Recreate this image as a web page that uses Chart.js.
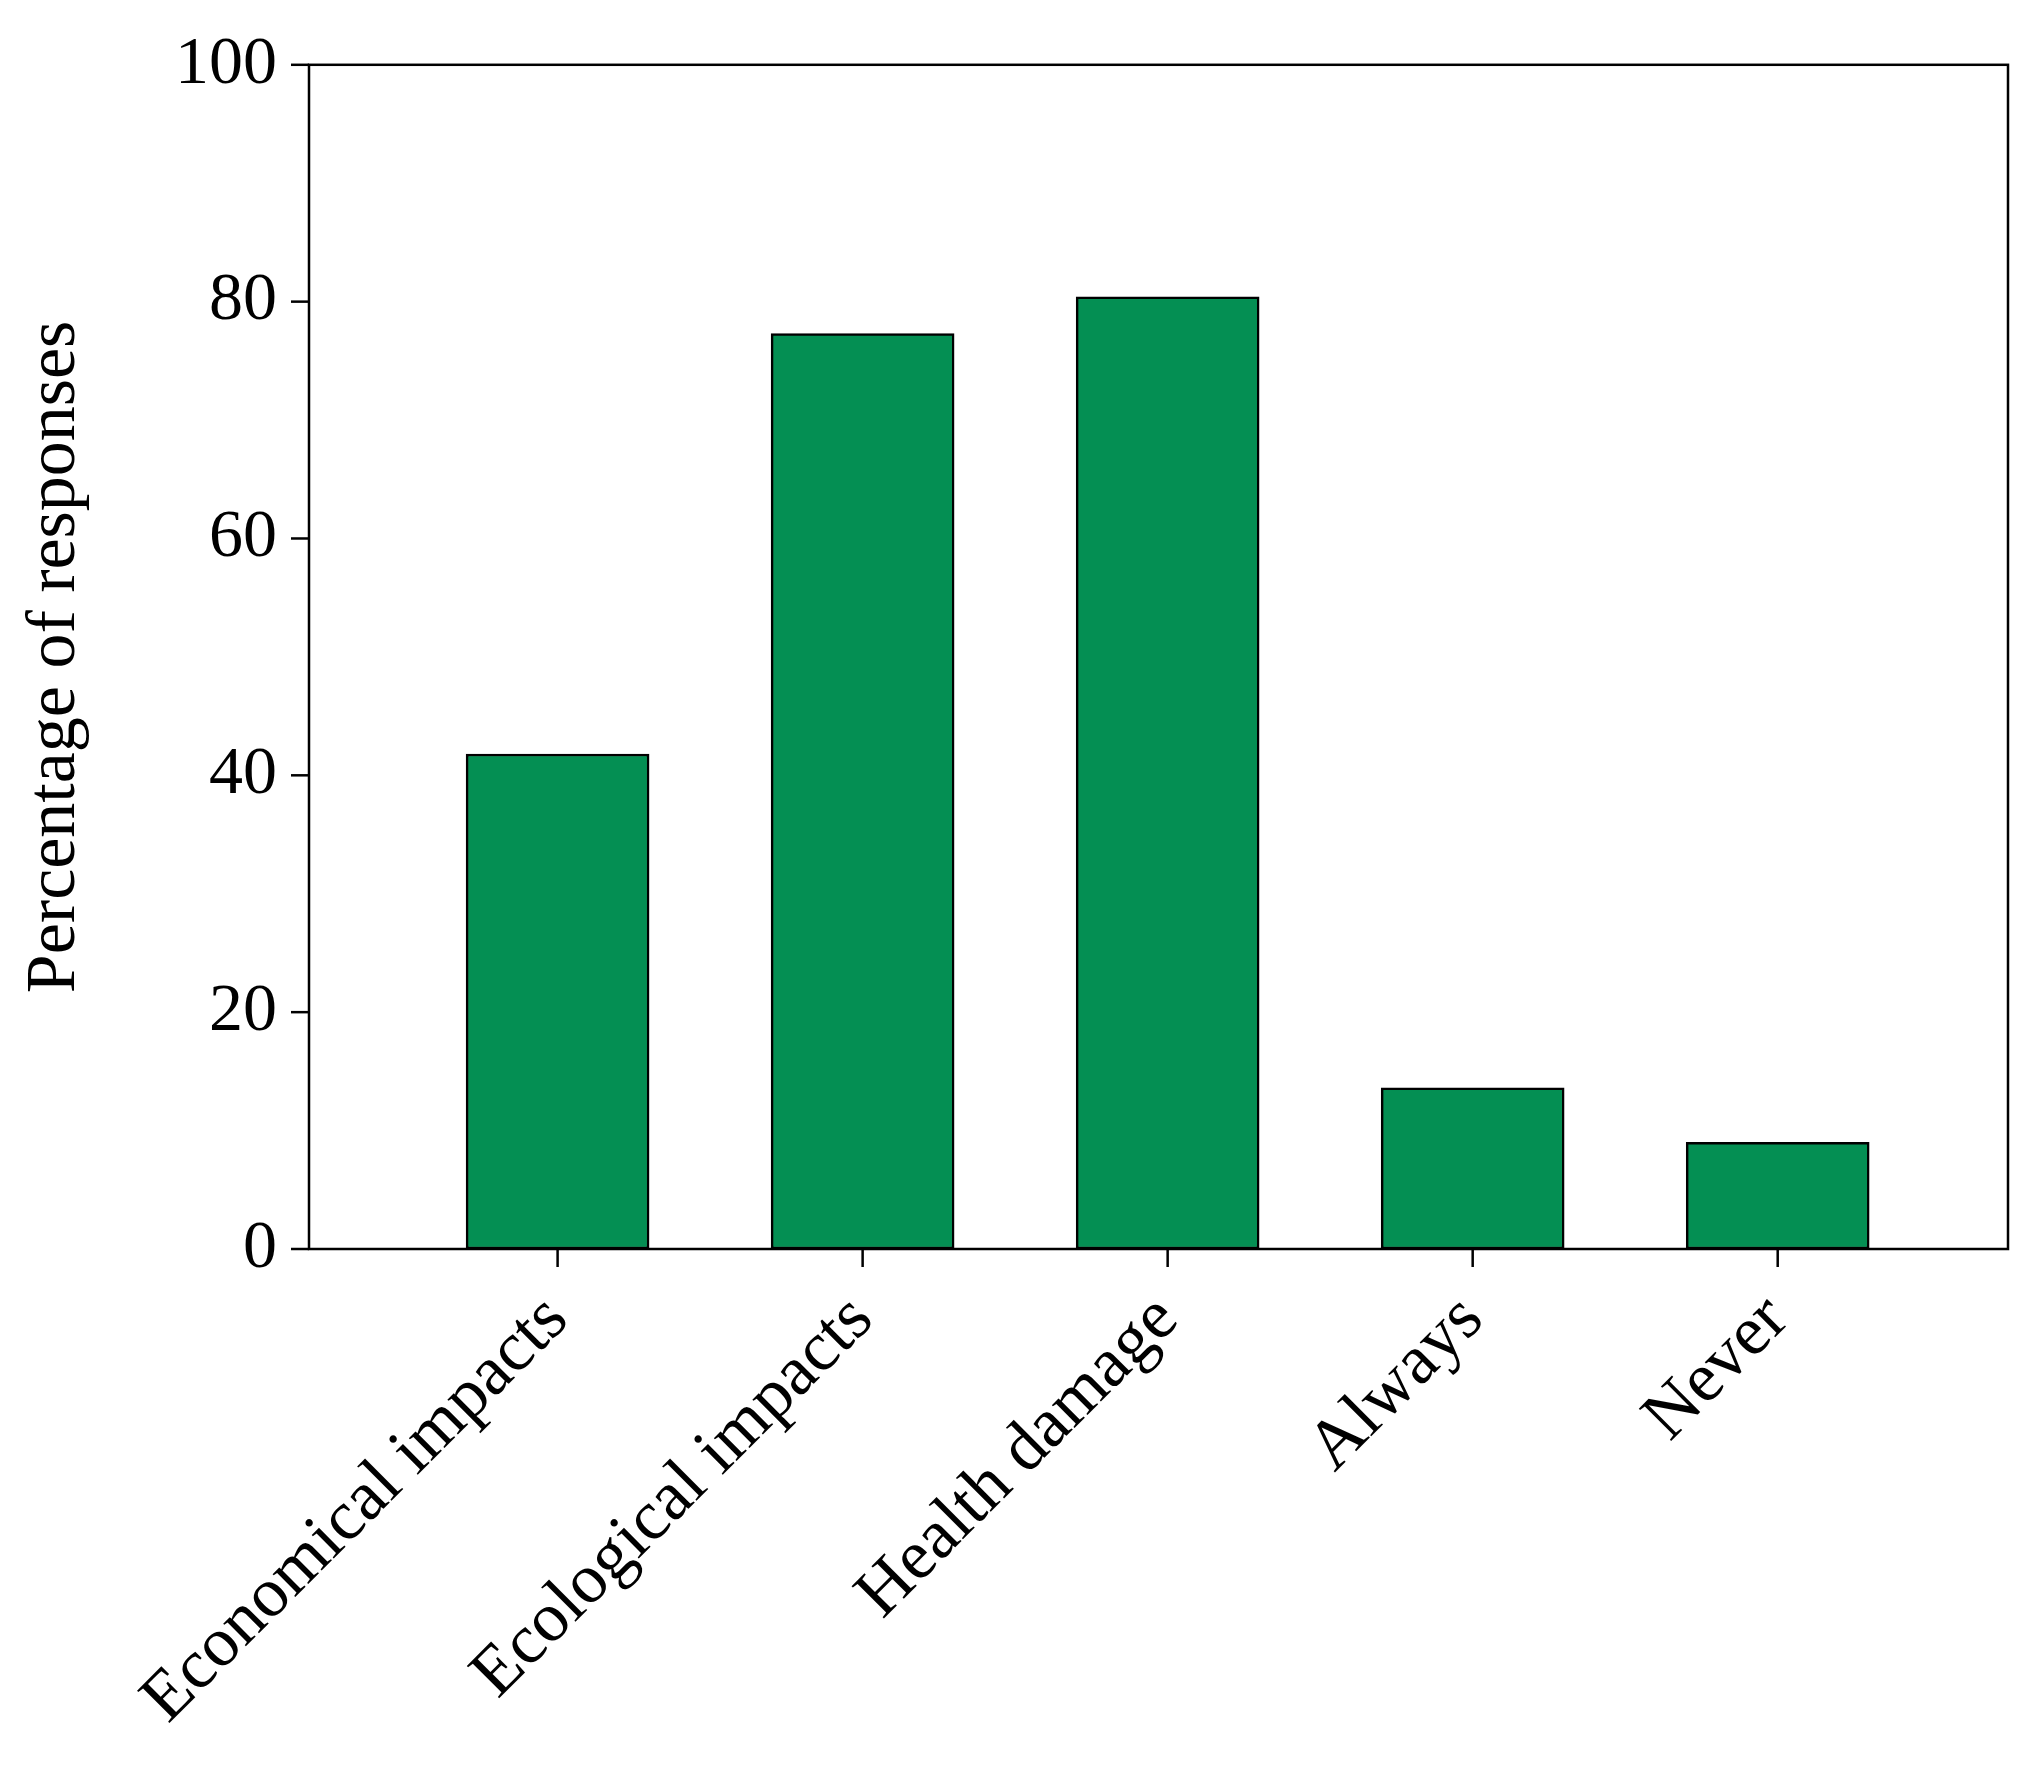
<!DOCTYPE html>
<html><head><meta charset="utf-8">
<script src="https://cdn.jsdelivr.net/npm/chart.js@4/dist/chart.umd.min.js"></script>
<style>html,body{margin:0;background:#fff}#w{width:2044px;height:1784px}</style>
</head><body><div id="w"><canvas id="c"></canvas></div>
<script>
const categories = ["Economical impacts","Ecological impacts","Health damage","Always","Never"];
const values = [41.8, 77.3, 80.4, 13.6, 9.0];
const yTicks = [0,20,40,60,80,100];
const FONT = "'Liberation Serif', 'DejaVu Serif', serif";
const frame = {id:'frame', afterDraw(ch){const a=ch.chartArea,c=ch.ctx;c.save();c.strokeStyle='#000';c.lineWidth=2.5;c.strokeRect(a.left,a.top,a.right-a.left,a.bottom-a.top);c.restore();}};
new Chart(document.getElementById('c'), {
  type:'bar',
  data:{datasets:[{data:values.map((v,i)=>({x:i,y:v})),backgroundColor:'#048f53',borderColor:'#000',borderWidth:2.5,borderSkipped:false,barThickness:183}]},
  options:{responsive:true,maintainAspectRatio:false,animation:false,
    layout:{padding:{top:52,right:36,left:10,bottom:10}},
    plugins:{legend:{display:false},tooltip:{enabled:false}},
    scales:{
      x:{type:'linear',offset:false,min:-0.815,max:4.755,grid:{display:false},border:{display:false},
        afterBuildTicks(s){s.ticks=categories.map((_,i)=>({value:i}));},
        afterFit(s){s.height=1784-1249-10;},
        ticks:{autoSkip:false,maxRotation:45,minRotation:45,padding:22,color:'#000',font:{family:FONT,size:70},callback:(v)=>categories[v]}},
      y:{min:0,max:100,grid:{display:false},border:{display:false},
        afterBuildTicks(s){s.ticks=yTicks.map(v=>({value:v}));},
        afterFit(s){s.width=309-10;},
        ticks:{color:'#000',font:{family:FONT,size:68},padding:24},
        title:{display:true,text:'Percentage of responses',color:'#000',font:{family:FONT,size:70,weight:'normal'}}}
    }},
  plugins:[frame,{id:'tk',afterDraw(ch){const c=ch.ctx,a=ch.chartArea;c.save();c.strokeStyle='#000';c.lineWidth=2.5;
    categories.forEach((_,i)=>{const x=ch.scales.x.getPixelForValue(i);c.beginPath();c.moveTo(x,a.bottom);c.lineTo(x,a.bottom+18);c.stroke();});
    yTicks.forEach(v=>{const y=ch.scales.y.getPixelForValue(v);c.beginPath();c.moveTo(a.left,y);c.lineTo(a.left-18,y);c.stroke();});c.restore();}}]
});
</script></body></html>
